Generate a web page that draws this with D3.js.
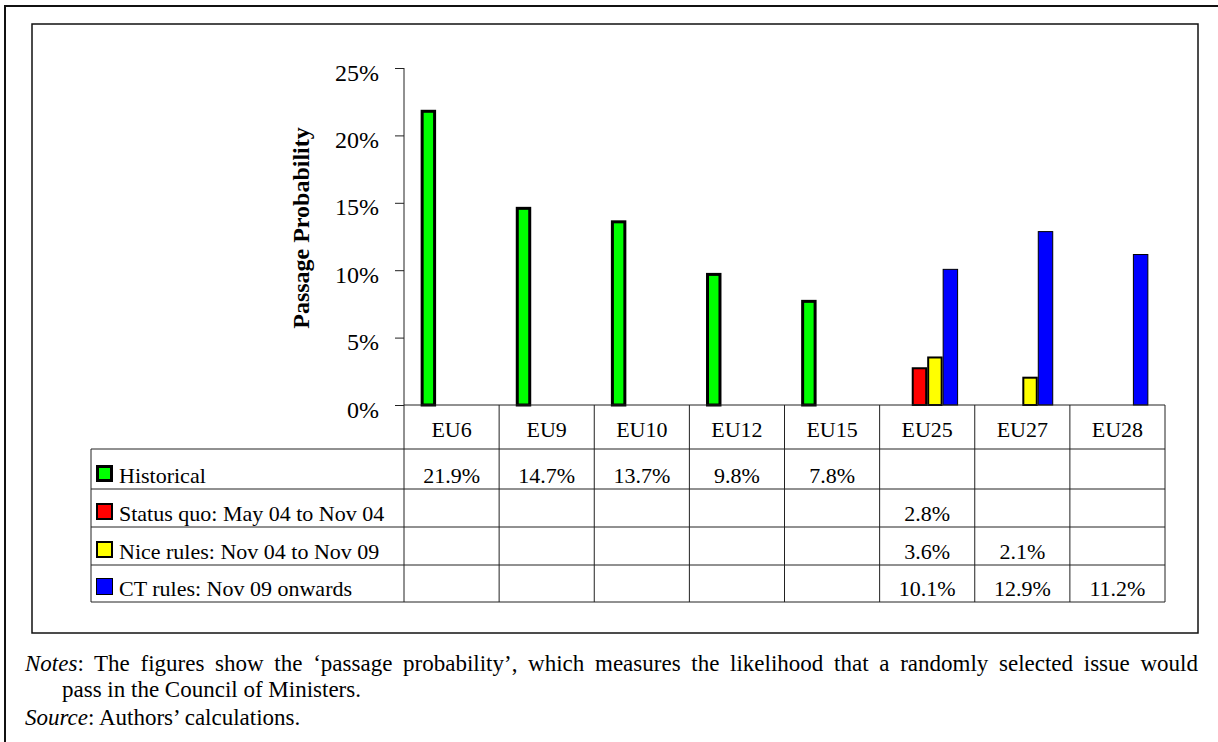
<!DOCTYPE html>
<html>
<head>
<meta charset="utf-8">
<script src="https://cdn.jsdelivr.net/npm/d3@7"></script>
<style>
  body { margin: 0; background: #fff; }
  svg text { font-family: "Liberation Serif", "Times New Roman", serif; fill: #000; }
</style>
</head>
<body>
<svg id="chart" width="1218" height="742"></svg>
<script>
// chart data
let categories = ["EU6", "EU9", "EU10", "EU12", "EU15", "EU25", "EU27", "EU28"];
let seriesNames = ["Historical", "Status quo: May 04 to Nov 04", "Nice rules: Nov 04 to Nov 09", "CT rules: Nov 09 onwards"];
let historical = [21.9, 14.7, 13.7, 9.8, 7.8, null, null, null];
let statusQuo = [null, null, null, null, null, 2.8, null, null];
let niceRules = [null, null, null, null, null, 3.6, 2.1, null];
let ctRules = [null, null, null, null, null, 10.1, 12.9, 11.2];
let yTicks = [0, 5, 10, 15, 20, 25];

let seriesColors = ["#00ff00", "#ff0000", "#ffff00", "#0000ff"];
let seriesStroke = [3, 2, 2, 1];
let seriesValues = [historical, statusQuo, niceRules, ctRules];

var svg = d3.select("#chart");

// frames
svg.append("rect")
    .attr("x", 5).attr("y", 6)
    .attr("width", 1230).attr("height", 760)
    .attr("fill", "none").attr("stroke", "#111").attr("stroke-width", 2);
svg.append("rect")
    .attr("x", 32).attr("y", 24)
    .attr("width", 1166).attr("height", 609)
    .attr("fill", "none").attr("stroke", "#111").attr("stroke-width", 1.5);

// scales
let x = d3.scaleBand().domain(categories).range([404, 1165]);
let groupW = x.bandwidth() * 0.65;
let xs = d3.scaleBand().domain(d3.range(seriesNames.length))
    .range([(x.bandwidth() - groupW) / 2, (x.bandwidth() + groupW) / 2]);
let y = d3.scaleLinear().domain([0, 25]).range([405, 68]);

// y axis
let yAxis = svg.append("g")
    .attr("transform", "translate(404,0)")
    .call(d3.axisLeft(y).tickValues(yTicks).tickSize(9).tickPadding(16)
        .tickFormat(function (d) { return d + "%"; }));
yAxis.select(".domain").attr("stroke", "#222").attr("d", "M0," + y(25) + "V" + y(0));
yAxis.selectAll(".tick line").attr("stroke", "#222");
yAxis.selectAll(".tick text")
    .attr("dy", 12)
    .style("font-size", "24px")
    .style("font-family", "Liberation Serif, serif")
    .attr("fill", "#000");

svg.append("text")
    .attr("transform", "translate(309,228) rotate(-90)")
    .attr("text-anchor", "middle")
    .style("font-size", "24px")
    .style("font-weight", "bold")
    .text("Passage Probability");

// bars
seriesValues.forEach(function (vals, si) {
    let rows = categories.map(function (c, i) { return { cat: c, v: vals[i] }; })
        .filter(function (d) { return d.v != null; });
    let sw = seriesStroke[si];
    svg.append("g").selectAll("rect")
        .data(rows)
        .enter()
        .append("rect")
        .attr("x", function (d) { return x(d.cat) + xs(si) + sw / 2; })
        .attr("y", function (d) { return y(d.v) + sw / 2; })
        .attr("width", xs.bandwidth() - sw)
        .attr("height", function (d) { return y(0) - y(d.v) - sw / 2; })
        .attr("fill", seriesColors[si])
        .attr("stroke", "#000")
        .attr("stroke-width", sw);
});

// data table
let tableLeft = 91, tableRight = x.range()[1];
let rowLines = [449, 489, 527, 565, 602];
let lineColor = "#222";

svg.append("line")
    .attr("x1", 404).attr("x2", tableRight)
    .attr("y1", y(0)).attr("y2", y(0))
    .attr("stroke", lineColor);
rowLines.forEach(function (ry) {
    svg.append("line")
        .attr("x1", tableLeft).attr("x2", tableRight)
        .attr("y1", ry).attr("y2", ry)
        .attr("stroke", lineColor);
});
svg.append("line")
    .attr("x1", tableLeft).attr("x2", tableLeft)
    .attr("y1", rowLines[0]).attr("y2", rowLines[rowLines.length - 1])
    .attr("stroke", lineColor);
categories.concat(["end"]).forEach(function (c, i) {
    let lx = i < categories.length ? x(c) : tableRight;
    svg.append("line")
        .attr("x1", lx).attr("x2", lx)
        .attr("y1", y(0)).attr("y2", rowLines[rowLines.length - 1])
        .attr("stroke", lineColor);
});

// header labels
svg.append("g").selectAll("text")
    .data(categories)
    .enter()
    .append("text")
    .attr("x", function (d) { return x(d) + x.bandwidth() / 2; })
    .attr("y", 437)
    .attr("text-anchor", "middle")
    .style("font-size", "22px")
    .text(function (d) { return d; });

// legend rows + values
seriesNames.forEach(function (name, si) {
    let bottom = rowLines[si + 1];
    let sw = seriesStroke[si];
    svg.append("rect")
        .attr("x", 96 + sw / 2).attr("y", bottom - 24 + sw / 2)
        .attr("width", 17 - sw).attr("height", 17 - sw)
        .attr("fill", seriesColors[si])
        .attr("stroke", "#000")
        .attr("stroke-width", sw);
    svg.append("text")
        .attr("x", 119).attr("y", bottom - 6)
        .style("font-size", "22px")
        .text(name);
    svg.append("g").selectAll("text")
        .data(seriesValues[si].map(function (v, i) { return { cat: categories[i], v: v }; })
            .filter(function (d) { return d.v != null; }))
        .enter()
        .append("text")
        .attr("x", function (d) { return x(d.cat) + x.bandwidth() / 2; })
        .attr("y", bottom - 6)
        .attr("text-anchor", "middle")
        .style("font-size", "22px")
        .text(function (d) { return d.v.toFixed(1) + "%"; });
});

// notes
let notes = svg.append("text")
    .attr("x", 25).attr("y", 671)
    .style("font-size", "23px");
notes.append("tspan").style("font-style", "italic").text("Notes");
notes.append("tspan").text(": The figures show the \u2018passage probability\u2019, which measures the likelihood that a randomly selected issue would");
// justify the first line to the right edge
let natural = notes.node().getComputedTextLength();
let spaces = notes.text().split(" ").length - 1;
notes.style("word-spacing", ((1198 - 25 - natural) / spaces) + "px");

svg.append("text")
    .attr("x", 62).attr("y", 697)
    .style("font-size", "23px")
    .text("pass in the Council of Ministers.");

let source = svg.append("text")
    .attr("x", 25).attr("y", 725)
    .style("font-size", "23px");
source.append("tspan").style("font-style", "italic").text("Source");
source.append("tspan").text(": Authors\u2019 calculations.");
</script>
</body>
</html>
